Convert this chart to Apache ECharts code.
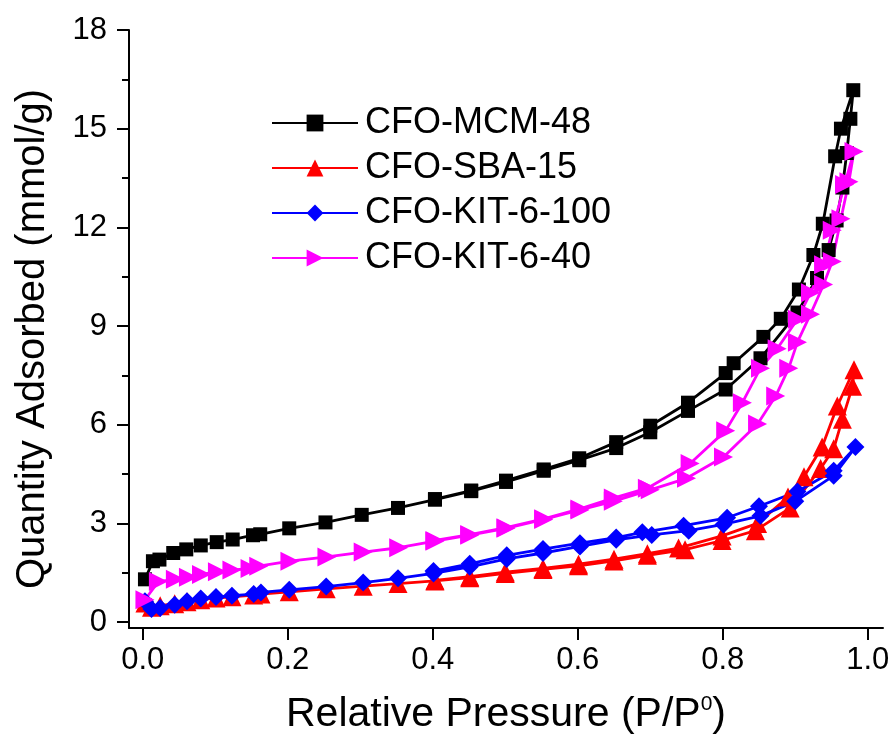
<!DOCTYPE html>
<html>
<head>
<meta charset="utf-8">
<script src="https://cdn.jsdelivr.net/npm/echarts@6/dist/echarts.min.js"></script>
<style>html,body{margin:0;padding:0;background:#fff}#c{width:895px;height:740px}</style>
</head>
<body>
<div id="c"></div>
<script>
// Relative pressure (P/P0) and quantity adsorbed (mmol/g): adsorption branch then desorption branch
const mcmP = [0.003,0.014,0.023,0.042,0.060,0.080,0.102,0.124,0.152,0.162,0.202,0.252,0.302,0.352,0.403,0.453,0.501,0.553,0.602,0.653,0.700,0.752,0.804,0.852,0.903,0.930,0.946,0.957,0.965,0.971,0.976,0.980,
              0.963,0.955,0.938,0.925,0.905,0.880,0.856,0.815,0.804,0.752,0.700,0.653,0.602,0.553,0.501,0.453,0.403];
const mcmQ = [1.30,1.85,1.90,2.10,2.21,2.33,2.43,2.51,2.64,2.67,2.85,3.03,3.26,3.47,3.72,3.98,4.26,4.60,4.92,5.29,5.77,6.42,7.07,8.02,9.41,10.46,11.31,12.21,13.21,14.26,15.30,16.17,
              15.00,14.16,12.11,11.16,10.11,9.22,8.67,7.87,7.57,6.67,5.97,5.47,4.98,4.64,4.30,4.00,3.74];

const sbaP = [0.003,0.012,0.024,0.044,0.061,0.080,0.101,0.123,0.153,0.163,0.202,0.253,0.304,0.352,0.403,0.451,0.500,0.552,0.601,0.650,0.696,0.748,0.799,0.845,0.893,0.935,0.953,0.965,0.979,0.981,
              0.958,0.937,0.912,0.890,0.848,0.799,0.739,0.696,0.650,0.601,0.552,0.500,0.451,0.403];
const sbaQ = [0.58,0.45,0.50,0.56,0.62,0.68,0.73,0.77,0.82,0.85,0.92,1.01,1.09,1.17,1.25,1.35,1.48,1.60,1.71,1.86,2.03,2.20,2.48,2.78,3.47,4.67,5.27,6.17,7.17,7.67,
              6.57,5.32,4.42,3.80,3.00,2.62,2.25,2.08,1.91,1.76,1.63,1.52,1.38,1.27];

const kit100P = [0.003,0.012,0.024,0.044,0.061,0.080,0.101,0.123,0.153,0.163,0.202,0.253,0.304,0.352,0.401,0.451,0.502,0.552,0.603,0.653,0.702,0.753,0.801,0.852,0.900,0.953,0.983,
                 0.953,0.903,0.850,0.806,0.746,0.689,0.653,0.603,0.552,0.502,0.451,0.401];
const kit100Q = [0.63,0.40,0.43,0.53,0.63,0.72,0.76,0.80,0.85,0.90,0.98,1.08,1.20,1.33,1.48,1.68,1.92,2.10,2.30,2.50,2.65,2.78,2.97,3.23,3.67,4.45,5.32,
                 4.60,3.97,3.52,3.17,2.93,2.73,2.57,2.40,2.22,2.03,1.77,1.55];

const kit40P = [0.003,0.0215,0.045,0.063,0.081,0.103,0.123,0.148,0.160,0.203,0.254,0.304,0.353,0.403,0.451,0.501,0.553,0.603,0.649,0.700,0.750,0.801,0.848,0.873,0.891,0.903,0.921,0.939,0.951,0.963,0.974,0.981,
                0.968,0.951,0.939,0.921,0.903,0.875,0.852,0.827,0.804,0.755,0.696,0.649,0.603,0.553,0.501,0.451,0.403];
const kit40Q = [0.68,1.23,1.30,1.36,1.45,1.53,1.58,1.63,1.70,1.85,1.98,2.13,2.26,2.46,2.64,2.85,3.12,3.41,3.67,4.02,4.37,5.02,6.02,6.87,7.72,8.51,9.36,10.26,10.96,12.26,13.39,14.31,
                13.30,11.91,10.86,10.01,9.21,8.31,7.72,6.67,5.82,4.82,4.07,3.77,3.44,3.14,2.87,2.66,2.48];

const seriesNames = ['CFO-MCM-48','CFO-SBA-15','CFO-KIT-6-100','CFO-KIT-6-40'];
const xTicks = [0, 0.2, 0.4, 0.6, 0.8, 1.0];
const yTicks = [0, 3, 6, 9, 12, 15, 18];
const yMinorTicks = [1.5, 4.5, 7.5, 10.5, 13.5, 16.5];

const pairs = (p, q) => p.map((v, i) => [v, q[i]]);
const FONT = '"Liberation Sans", Arial, sans-serif';

const chart = echarts.init(document.getElementById('c'), null, {renderer: 'canvas'});
const mk = (name, p, q, color, symbol, size, rot) => ({
  name, type: 'line', data: pairs(p, q),
  symbol, symbolSize: size, symbolRotate: rot || 0,
  showAllSymbol: true,
  lineStyle: {color, width: 2.8},
  itemStyle: {color, borderWidth: 0},
  emphasis: {disabled: true},
  animation: false
});

chart.setOption({
  animation: false,
  grid: {left: 129, right: 12, top: 30, bottom: 103, containLabel: false},
  legend: {
    orient: 'vertical', left: 266, top: 100,
    itemWidth: 86, itemHeight: 21, itemGap: 9,
    textStyle: {fontFamily: FONT, fontSize: 36, color: '#000', lineHeight: 36, padding: [0,0,0,2]},
    data: seriesNames
  },
  xAxis: {
    type: 'value', min: -0.019, max: 1.021,
    name: 'Relative Pressure (P/P{sup|0})', nameLocation: 'middle', nameGap: 66,
    nameTextStyle: {fontFamily: FONT, fontSize: 41, color: '#000',
      rich: {sup: {fontFamily: FONT, fontSize: 21, color: '#000', verticalAlign: 'top', padding: [0,0,17,0]}}},
    axisLine: {onZero: false, lineStyle: {color: '#000', width: 2}},
    axisTick: {show: true, inside: false, length: 12, lineStyle: {color: '#000', width: 2}, customValues: xTicks},
    axisLabel: {fontFamily: FONT, fontSize: 31, color: '#000', margin: 17, customValues: xTicks,
      formatter: v => v.toFixed(1)},
    splitLine: {show: false}
  },
  yAxis: [{
    type: 'value', min: -0.18, max: 18,
    name: 'Quantity Adsorbed (mmol/g)', nameLocation: 'middle', nameGap: 76,
    nameTextStyle: {fontFamily: FONT, fontSize: 40, color: '#000', padding: [0, 20, 0, 0]},
    axisLine: {show: true, onZero: false, lineStyle: {color: '#000', width: 2}},
    axisTick: {show: true, inside: false, length: 12, lineStyle: {color: '#000', width: 2}, customValues: yTicks},
    axisLabel: {fontFamily: FONT, fontSize: 31, color: '#000', margin: 22, customValues: yTicks},
    splitLine: {show: false}
  }, {
    type: 'value', min: -0.18, max: 18, position: 'left',
    axisLine: {show: false, onZero: false},
    axisTick: {show: true, inside: false, length: 7, lineStyle: {color: '#000', width: 2}, customValues: yMinorTicks},
    axisLabel: {show: false},
    splitLine: {show: false}
  }],
  series: [
    mk(seriesNames[0], mcmP, mcmQ, '#000000', 'rect', 14),
    mk(seriesNames[1], sbaP, sbaQ, '#ff0000', 'triangle', 19),
    mk(seriesNames[2], kit100P, kit100Q, '#0000ff', 'diamond', 18),
    mk(seriesNames[3], kit40P, kit40Q, '#ff00ff', 'triangle', 19, -90)
  ]
});
</script>
</body>
</html>
